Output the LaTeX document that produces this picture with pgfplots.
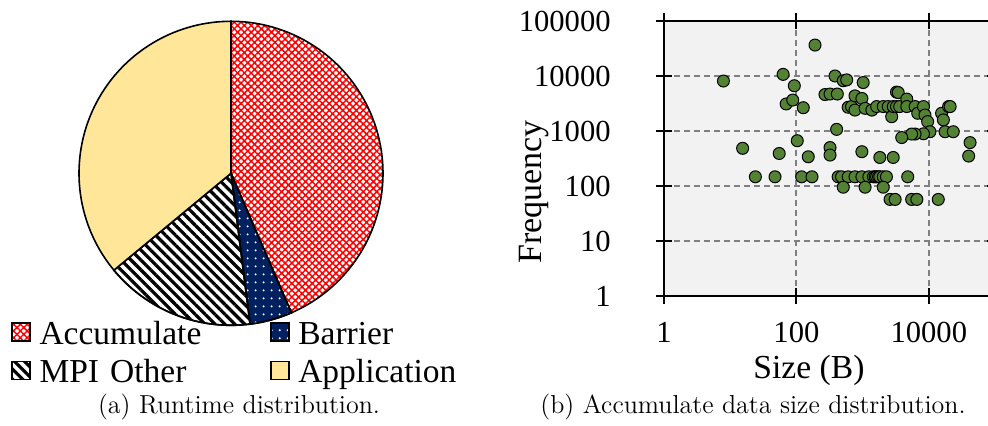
\documentclass[border=0pt]{standalone}
\usepackage{fontspec}
\newfontfamily\timesfont{Liberation Serif}
\usepackage{pgfplots}
\pgfplotsset{compat=1.18}
\usetikzlibrary{patterns,patterns.meta}
\definecolor{ptgreen}{RGB}{84,130,53}
\definecolor{bggray}{RGB}{242,242,242}
\definecolor{gridgray}{RGB}{128,128,128}
\definecolor{appyellow}{RGB}{255,230,153}
\definecolor{barblue}{RGB}{0,32,96}
\definecolor{accred}{RGB}{255,0,0}

\begin{document}
\begin{tikzpicture}
\useasboundingbox (0pt,0pt) rectangle (494pt,213pt);

% runtime shares in percent: Accumulate, Barrier, MPI Other, Application
\pgfmathsetmacro{\pAcc}{43.5}
\pgfmathsetmacro{\pBar}{4.5}
\pgfmathsetmacro{\pMpi}{16.0}
\pgfmathsetmacro{\pApp}{36.0}
\pgfmathsetmacro{\aA}{\pAcc*3.6}
\pgfmathsetmacro{\aB}{(\pAcc+\pBar)*3.6}
\pgfmathsetmacro{\aC}{(\pAcc+\pBar+\pMpi)*3.6}

\begin{axis}[
  at={(39.5pt,50.35pt)}, anchor=south west,
  scale only axis, width=152pt, height=152pt,
  xmin=-1, xmax=1, ymin=-1, ymax=1,
  hide axis, clip=false,
  legend columns=2,
  legend image code/.code={\draw[#1, line width=0.8pt] (0pt,-2.5pt) rectangle (9pt,6.5pt);},
  legend style={at={(-0.224,0.0164)}, anchor=north west, draw=none, fill=none,
    inner sep=0pt, row sep=3.6pt, column sep=4.3pt,
    font=\timesfont\fontsize{16.75}{18}\selectfont,
    nodes={inner sep=0pt, text height=12pt, text depth=3.5pt, text width=111pt, align=left}},
  legend cell align=left,
]
\addplot[draw=black, line width=0.8pt, pattern={Hatch[angle=45,distance=2.4pt,line width=0.75pt]}, pattern color=accred,
  domain=0:\aA, samples=90, variable=\t] ({sin(\t)},{cos(\t)}) -- (axis cs:0,0) -- cycle;
\addlegendentry{Accumulate}
\addplot[draw=black, line width=0.8pt, fill=barblue, postaction={pattern={Dots[distance=4pt,radius=0.6pt]}, pattern color=white},
  domain=\aA:\aB, samples=20, variable=\t] ({sin(\t)},{cos(\t)}) -- (axis cs:0,0) -- cycle;
\addlegendentry{Barrier}
\addplot[draw=black, line width=0.8pt, fill=white, postaction={pattern={Lines[angle=-45,distance=3.5pt,line width=1.6pt]}, pattern color=black},
  domain=\aB:\aC, samples=40, variable=\t] ({sin(\t)},{cos(\t)}) -- (axis cs:0,0) -- cycle;
\addlegendentry{MPI Other}
\addplot[draw=black, line width=0.8pt, fill=appyellow,
  domain=\aC:360, samples=80, variable=\t] ({sin(\t)},{cos(\t)}) -- (axis cs:0,0) -- cycle;
\addlegendentry{Application}
\end{axis}

\begin{axis}[
  at={(332pt,65pt)}, anchor=south west,
  scale only axis, width=165.5pt, height=137.5pt,
  xmode=log, ymode=log,
  xmin=1, xmax=100000, ymin=1, ymax=100000,
  axis background/.style={fill=bggray},
  xtick={1,100,10000}, xticklabels={1,100,10000},
  ytick={1,10,100,1000,10000,100000},
  yticklabels={1,10,100,1000,10000,100000},
  xminorticks=false, yminorticks=false,
  grid=major,
  major grid style={draw=gridgray, line width=1pt, dash pattern=on 3pt off 2pt},
  axis line style={line width=1pt, black},
  tick style={line width=1pt, black},
  tick align=center, major tick length=8pt,
  xticklabel style={font=\timesfont\fontsize{15.3}{16}\selectfont, inner sep=0pt, anchor=north, yshift=-8.8pt},
  yticklabel style={font=\timesfont\fontsize{15.3}{16}\selectfont, inner sep=0pt, anchor=east, xshift=-22.5pt},
  xlabel={Size (B)}, ylabel={Frequency},
  xlabel style={font=\timesfont\fontsize{16.8}{17}\selectfont, at={(axis description cs:0.438,-0.269)}, anchor=center, inner sep=0pt},
  ylabel style={font=\timesfont\fontsize{17}{17}\selectfont, at={(axis description cs:-0.3927,0.379)}, anchor=center, inner sep=0pt},
]
\addplot[only marks, mark=*, mark size=3pt, mark options={fill=ptgreen, draw=black, line width=0.5pt}]
coordinates {
(7.9,8100) (15.4,484) (24,147) (47.5,147) (55,390) (63,10700) (70,3100) (88,3650)
(93,6650) (103,665) (120,147) (127,2650) (151,340) (172,147) (191,36500)
(270,4600) (322,4700) (415,4700) (322,500) (322,365) (383,10000) (405,1070)
(510,8200) (575,8500) (1020,7600) (605,2700) (680,2780) (767,2400) (767,4350)
(975,3900) (1090,2580) (1380,2400) (1630,2780) (2050,2780) (2440,2780) (2750,1820)
(2900,2780) (3250,2780) (3630,2780) (3250,5100) (3450,5000) (4650,3800) (4650,2780)
(6200,2780) (6800,2100) (8300,2780) (8750,1950) (9600,1480) (10400,970) (8300,890)
(6200,880) (5500,880) (3900,760) (15600,2100) (19900,2780) (21000,2780) (16600,1590)
(17600,970) (23400,970) (42000,615) (40000,350) (975,420) (1820,330) (2900,330)
(427,147) (480,147) (605,147) (767,147) (975,147) (1240,147) (1460,147) (1550,147)
(1630,147) (1740,147) (1820,147) (2050,147) (2290,147) (4800,147)
(510,95) (1090,95) (2050,95)
(2600,57) (3100,57) (5500,57) (6600,57) (13900,57)
};
\end{axis}

\node[anchor=base, font=\fontsize{13}{15}\selectfont] at (119.5pt,6pt) {(a) Runtime distribution.};
\node[anchor=base, font=\fontsize{13}{15}\selectfont] at (376.5pt,6pt) {(b) Accumulate data size distribution.};
\end{tikzpicture}
\end{document}
